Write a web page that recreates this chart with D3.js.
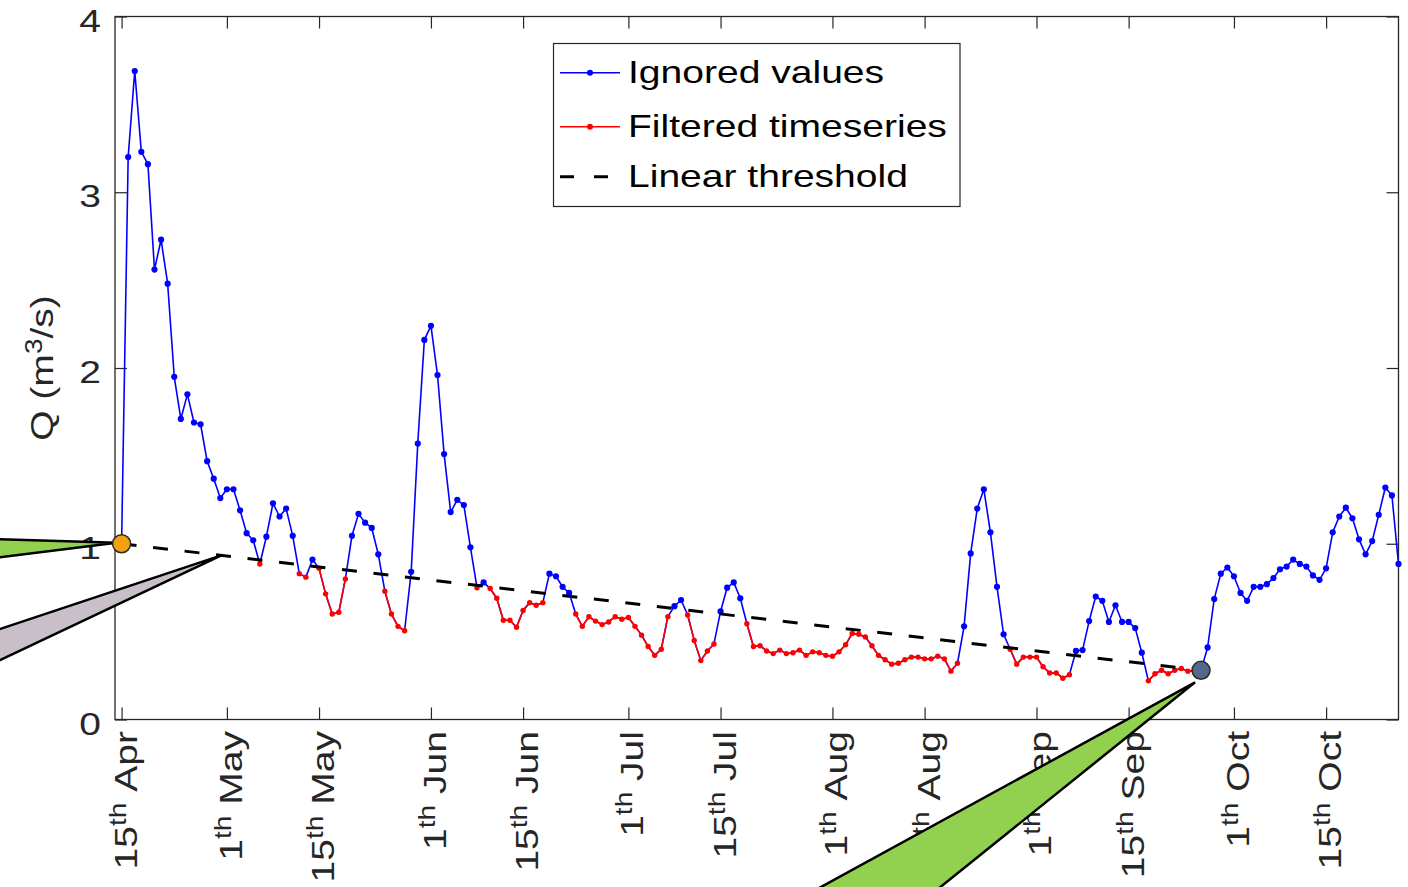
<!DOCTYPE html>
<html><head><meta charset="utf-8">
<script src="https://cdn.jsdelivr.net/npm/d3@7"></script>
<style>body{margin:0;background:#fff} svg{display:block}</style>
</head><body><svg id="chart" width="1408" height="887"></svg>
<script>
// ---------- data ----------
const startDate = "2015-04-15";           // first daily value
const discharge = [
 1.00,3.20,3.69,3.23,3.16,2.56,2.73,2.48,1.95,1.71,
 1.85,1.69,1.68,1.47,1.37,1.26,1.31,1.31,1.19,1.06,
 1.02,0.885,1.04,1.23,1.155,1.20,1.045,0.83,0.81,0.91,
 0.86,0.715,0.60,0.61,0.80,1.045,1.17,1.12,1.09,0.94,
 0.73,0.60,0.53,0.505,0.84,1.57,2.16,2.24,1.96,1.51,
 1.18,1.25,1.22,0.98,0.75,0.78,0.745,0.69,0.565,0.565,
 0.525,0.62,0.665,0.65,0.665,0.83,0.815,0.755,0.72,0.60,
 0.53,0.585,0.56,0.54,0.555,0.585,0.57,0.58,0.53,0.48,
 0.415,0.365,0.40,0.585,0.645,0.68,0.595,0.45,0.335,0.39,
 0.43,0.615,0.75,0.78,0.69,0.545,0.415,0.42,0.39,0.375,
 0.395,0.375,0.38,0.395,0.365,0.385,0.38,0.365,0.36,0.385,
 0.425,0.49,0.485,0.47,0.42,0.365,0.34,0.315,0.32,0.34,
 0.355,0.355,0.345,0.345,0.36,0.345,0.275,0.32,0.53,0.945,
 1.20,1.31,1.065,0.755,0.485,0.40,0.315,0.355,0.355,0.355,
 0.30,0.265,0.265,0.235,0.255,0.39,0.395,0.56,0.70,0.675,
 0.555,0.65,0.555,0.555,0.52,0.38,0.22,0.26,0.28,0.26,
 0.28,0.29,0.275,0.278,0.28,0.41,0.685,0.83,0.865,0.815,
 0.72,0.675,0.755,0.755,0.77,0.805,0.855,0.87,0.91,0.885,
 0.87,0.82,0.795,0.86,1.065,1.155,1.205,1.145,1.025,0.94,
 1.015,1.165,1.32,1.275,0.885
];
const thresholdDates  = ["2015-04-15","2015-09-26"];
const thresholdValues = [1.00, 0.28];
const calloutDates    = ["2015-04-15","2015-04-30","2015-09-26"];

const tickDates  = ["2015-04-15","2015-05-01","2015-05-15","2015-06-01","2015-06-15","2015-07-01",
                    "2015-07-15","2015-08-01","2015-08-15","2015-09-01","2015-09-15","2015-10-01","2015-10-15"];
const tickDays   = ["15","1","15","1","15","1","15","1","15","1","15","1","15"];
const tickMonths = ["Apr","May","May","Jun","Jun","Jul","Jul","Aug","Aug","Sep","Sep","Oct","Oct"];
const yTicks     = [0,1,2,3,4];
const legendLabels = ["Ignored values","Filtered timeseries","Linear threshold"];

// ---------- setup ----------
const parse = d3.timeParse("%Y-%m-%d");
const svg = d3.select("#chart");
const FONT = "'Liberation Sans', Arial, Helvetica, sans-serif";
const SX = 1.22;               // glyph stretch along text direction
const AX = "#262626";

const L = 115, R = 1398.5, T = 16.5, B = 719.5;
const x = d3.scaleTime().domain([parse("2015-04-14"), parse("2015-10-26")]).range([L, R]);
const y = d3.scaleLinear().domain([0, 4]).range([B, T]);

const t0 = parse(thresholdDates[0]), t1 = parse(thresholdDates[1]);
const thr = d => thresholdValues[0] + (thresholdValues[1]-thresholdValues[0]) * (d - t0) / (t1 - t0);

const start = parse(startDate);
const data = discharge.map((v, i) => {
  const date = d3.timeDay.offset(start, i);
  const filtered = date > t0 && date < t1 && v < thr(date);
  return {date, v, filtered};
});

// ---------- axes frame ----------
svg.append("rect").attr("x", L).attr("y", T).attr("width", R-L).attr("height", B-T)
  .attr("fill", "#fff");

const tickDateObjs = tickDates.map(parse);
function styleAxis(g){
  g.selectAll(".domain").remove();
  g.selectAll(".tick line").attr("stroke", AX).attr("stroke-width", 1.2);
  g.selectAll(".tick text").remove();
}
svg.append("g").attr("transform", `translate(0,${B})`)
  .call(d3.axisBottom(x).tickValues(tickDateObjs).tickSize(-12)).call(styleAxis);
svg.append("g").attr("transform", `translate(0,${T})`)
  .call(d3.axisTop(x).tickValues(tickDateObjs).tickSize(-12)).call(styleAxis);
svg.append("g").attr("transform", `translate(${L},0)`)
  .call(d3.axisLeft(y).tickValues(yTicks).tickSize(-12)).call(styleAxis);
svg.append("g").attr("transform", `translate(${R},0)`)
  .call(d3.axisRight(y).tickValues(yTicks).tickSize(-12)).call(styleAxis);

svg.append("rect").attr("x", L).attr("y", T).attr("width", R-L).attr("height", B-T)
  .attr("fill", "none").attr("stroke", AX).attr("stroke-width", 1.3);

// y tick labels
svg.append("g").selectAll("text").data(yTicks).join("text")
  .attr("transform", d => `translate(101,${y(d)+15}) scale(${SX},1)`)
  .attr("text-anchor", "end").attr("font-family", FONT).attr("font-size", 32)
  .attr("fill", AX).text(d => d);

// x tick labels (rotated, with superscript)
const xl = svg.append("g").selectAll("text").data(tickDateObjs).join("text")
  .attr("transform", d => `translate(${x(d)+15},731) rotate(-90) scale(${SX},1)`)
  .attr("text-anchor", "end").attr("font-family", FONT).attr("font-size", 32).attr("fill", AX);
xl.append("tspan").text((d,i) => tickDays[i]);
xl.append("tspan").attr("font-size", 23).attr("dy", -11).text("th");
xl.append("tspan").attr("dy", 11).text((d,i) => "\u00a0" + tickMonths[i]);

// y axis title
const yt = svg.append("text")
  .attr("transform", `translate(53,${(T+B)/2}) rotate(-90) scale(${SX},1)`)
  .attr("text-anchor", "middle").attr("font-family", FONT).attr("font-size", 32).attr("fill", AX);
yt.append("tspan").text("Q (m");
yt.append("tspan").attr("font-size", 23).attr("dy", -11).text("3");
yt.append("tspan").attr("dy", 11).text("/s)");

// ---------- series ----------
const plot = svg.append("g");
const line = d3.line().x(d => x(d.date)).y(d => y(d.v));
plot.append("path").datum(data).attr("d", line)
  .attr("fill", "none").attr("stroke", "#0000ff").attr("stroke-width", 1.6).attr("stroke-linejoin", "round");
plot.selectAll("circle.ign").data(data.filter(d => !d.filtered)).join("circle")
  .attr("class", "ign").attr("cx", d => x(d.date)).attr("cy", d => y(d.v)).attr("r", 3.1).attr("fill", "#0000ff");

plot.append("path").datum(data).attr("d", line.defined(d => d.filtered))
  .attr("fill", "none").attr("stroke", "#ff0000").attr("stroke-width", 1.6).attr("stroke-linejoin", "round");
plot.selectAll("circle.flt").data(data.filter(d => d.filtered)).join("circle")
  .attr("class", "flt").attr("cx", d => x(d.date)).attr("cy", d => y(d.v)).attr("r", 2.7).attr("fill", "#ff0000");

// threshold
const thrPts = thresholdDates.map((d,i) => ({date: parse(d), v: thresholdValues[i]}));
plot.append("path").datum(thrPts)
  .attr("d", d3.line().x(d => x(d.date)).y(d => y(d.v)))
  .attr("fill", "none").attr("stroke", "#000").attr("stroke-width", 3).attr("stroke-dasharray", "15 16.7");

// ---------- legend ----------
const lg = svg.append("g");
lg.append("rect").attr("x", 553.5).attr("y", 43.5).attr("width", 406.5).attr("height", 163)
  .attr("fill", "#fff").attr("stroke", AX).attr("stroke-width", 1.2);
const rowsY = [72.7, 126.7, 176.7];
const baseY = [83, 137, 187];
const cols = ["#0000ff", "#ff0000"];
[0,1].forEach(i => {
  lg.append("line").attr("x1", 560).attr("x2", 620).attr("y1", rowsY[i]).attr("y2", rowsY[i])
    .attr("stroke", cols[i]).attr("stroke-width", 1.6);
  lg.append("circle").attr("cx", 590).attr("cy", rowsY[i]).attr("r", 3).attr("fill", cols[i]);
});
lg.append("line").attr("x1", 560).attr("x2", 620).attr("y1", rowsY[2]).attr("y2", rowsY[2])
  .attr("stroke", "#000").attr("stroke-width", 3).attr("stroke-dasharray", "14 20");
lg.selectAll("text").data(legendLabels).join("text")
  .attr("transform", (d,i) => `translate(628,${baseY[i]}) scale(${SX},1)`)
  .attr("font-family", FONT).attr("font-size", 32).attr("fill", "#000").text(d => d);

// ---------- callouts ----------
const cDates = calloutDates.map(parse);
const tipA = [x(cDates[0]) - 5, y(thr(cDates[0])) - 1];
const tipB = [x(cDates[1]) + 1, y(thr(cDates[1]))];
const tipC = [x(cDates[2]) - 6, y(thr(cDates[2])) + 12];
const co = svg.append("g").attr("stroke", "#000").attr("stroke-width", 2.5).attr("stroke-linejoin", "miter");
co.append("polygon").attr("points", [[-6,539], tipA, [-6,558]].join(" ")).attr("fill", "#92d050");
co.append("polygon").attr("points", [[-6,631], tipB, [-6,663]].join(" ")).attr("fill", "#c8bfc8");
co.append("polygon").attr("points", [[810,893], tipC, [933,893]].join(" ")).attr("fill", "#92d050");

// ---------- threshold end points ----------
svg.append("circle").attr("cx", x(thrPts[0].date)).attr("cy", y(thrPts[0].v)).attr("r", 9)
  .attr("fill", "#f5a00f").attr("stroke", "#2b2b2b").attr("stroke-width", 1.5);
svg.append("circle").attr("cx", x(thrPts[1].date)).attr("cy", y(thrPts[1].v)).attr("r", 9)
  .attr("fill", "#52698a").attr("stroke", "#2b2b2b").attr("stroke-width", 1.5);
</script></body></html>
